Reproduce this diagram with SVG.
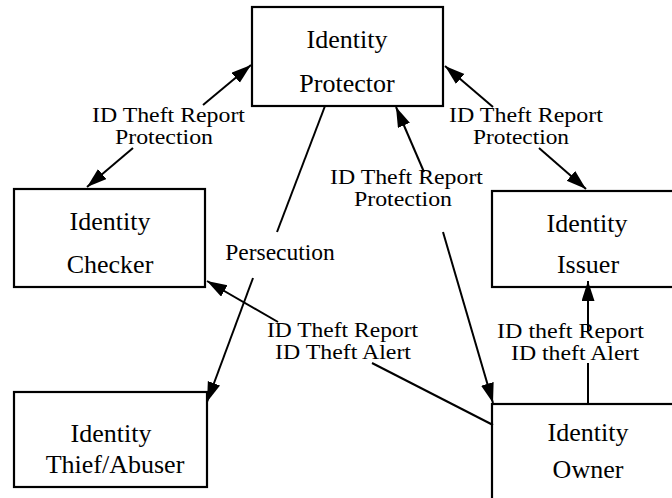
<svg xmlns="http://www.w3.org/2000/svg" width="672" height="498" viewBox="0 0 672 498">
  <style>
    .box { fill: #ffffff; stroke: #000000; stroke-width: 2.2; }
    .node-text { font-family: "Liberation Serif", "Times New Roman", serif; font-size: 26px; fill: #000000; text-anchor: middle; }
    .edge { fill: none; stroke: #000000; stroke-width: 2; }
    .arrow { marker-end: url(#head); }
    .edge-text { font-family: "Liberation Serif", "Times New Roman", serif; font-size: 20px; fill: #000000; text-anchor: middle; }
    .edge-text.single { font-size: 23.5px; }
  </style>
  <defs>
    <marker id="head" markerUnits="userSpaceOnUse" markerWidth="21" markerHeight="14" refX="20" refY="6.5" orient="auto">
      <path d="M0,0 L20,6.5 L0,13 z" fill="#000000"/>
    </marker>
  </defs>
  <rect width="672" height="498" fill="#ffffff"/>

  <g id="identity-protector">
    <rect class="box" x="252" y="7" width="191" height="99"/>
    <text class="node-text" x="347" y="48">Identity</text>
    <text class="node-text" x="347" y="92">Protector</text>
  </g>

  <g id="identity-checker">
    <rect class="box" x="14" y="189" width="191" height="98"/>
    <text class="node-text" x="110" y="230">Identity</text>
    <text class="node-text" x="110" y="273">Checker</text>
  </g>

  <g id="identity-issuer">
    <rect class="box" x="492" y="191" width="190" height="96"/>
    <text class="node-text" x="587" y="232">Identity</text>
    <text class="node-text" x="588" y="273">Issuer</text>
  </g>

  <g id="identity-thief">
    <rect class="box" x="14" y="392" width="193" height="95"/>
    <text class="node-text" x="111" y="442">Identity</text>
    <text class="node-text" x="115" y="473">Thief/Abuser</text>
  </g>

  <g id="identity-owner">
    <rect class="box" x="492" y="404" width="190" height="110"/>
    <text class="node-text" x="588" y="441">Identity</text>
    <text class="node-text" x="588" y="478">Owner</text>
  </g>

  <g id="connectors">
    <!-- Protector <-> Checker -->
    <line class="edge arrow" x1="203" y1="105" x2="251" y2="65"/>
    <line class="edge arrow" x1="133" y1="148" x2="87" y2="187"/>
    <!-- Protector <-> Issuer -->
    <line class="edge arrow" x1="493" y1="107" x2="445" y2="66"/>
    <line class="edge arrow" x1="539" y1="148" x2="586" y2="189"/>
    <!-- Protector <-> Owner -->
    <line class="edge arrow" x1="424" y1="172" x2="396" y2="107"/>
    <line class="edge arrow" x1="443" y1="232" x2="493" y2="403"/>
    <!-- Protector -> Thief (Persecution) -->
    <line class="edge" x1="325" y1="106" x2="277" y2="232"/>
    <line class="edge arrow" x1="253" y1="278" x2="207" y2="402"/>
    <!-- Owner -> Checker -->
    <line class="edge arrow" x1="278" y1="322" x2="207" y2="281"/>
    <line class="edge" x1="493" y1="425" x2="372" y2="363"/>
    <!-- Owner -> Issuer -->
    <line class="edge" x1="588" y1="404" x2="588" y2="363"/>
    <line class="edge arrow" x1="588" y1="331" x2="588" y2="281"/>
  </g>

  <g id="edge-labels">
    <text class="edge-text" x="168.5" y="122" textLength="153" lengthAdjust="spacingAndGlyphs">ID Theft Report</text>
    <text class="edge-text" x="164" y="144" textLength="98" lengthAdjust="spacingAndGlyphs">Protection</text>
    <text class="edge-text" x="526" y="122" textLength="154" lengthAdjust="spacingAndGlyphs">ID Theft Report</text>
    <text class="edge-text" x="521" y="144" textLength="96" lengthAdjust="spacingAndGlyphs">Protection</text>
    <text class="edge-text" x="406.5" y="184" textLength="153" lengthAdjust="spacingAndGlyphs">ID Theft Report</text>
    <text class="edge-text" x="403" y="206" textLength="98" lengthAdjust="spacingAndGlyphs">Protection</text>
    <text class="edge-text single" x="280" y="260">Persecution</text>
    <text class="edge-text" x="342.5" y="337" textLength="151" lengthAdjust="spacingAndGlyphs">ID Theft Report</text>
    <text class="edge-text" x="343" y="359" textLength="136" lengthAdjust="spacingAndGlyphs">ID Theft Alert</text>
    <text class="edge-text" x="570.5" y="338" textLength="147" lengthAdjust="spacingAndGlyphs">ID theft Report</text>
    <text class="edge-text" x="575" y="360" textLength="128" lengthAdjust="spacingAndGlyphs">ID theft Alert</text>
  </g>
</svg>
